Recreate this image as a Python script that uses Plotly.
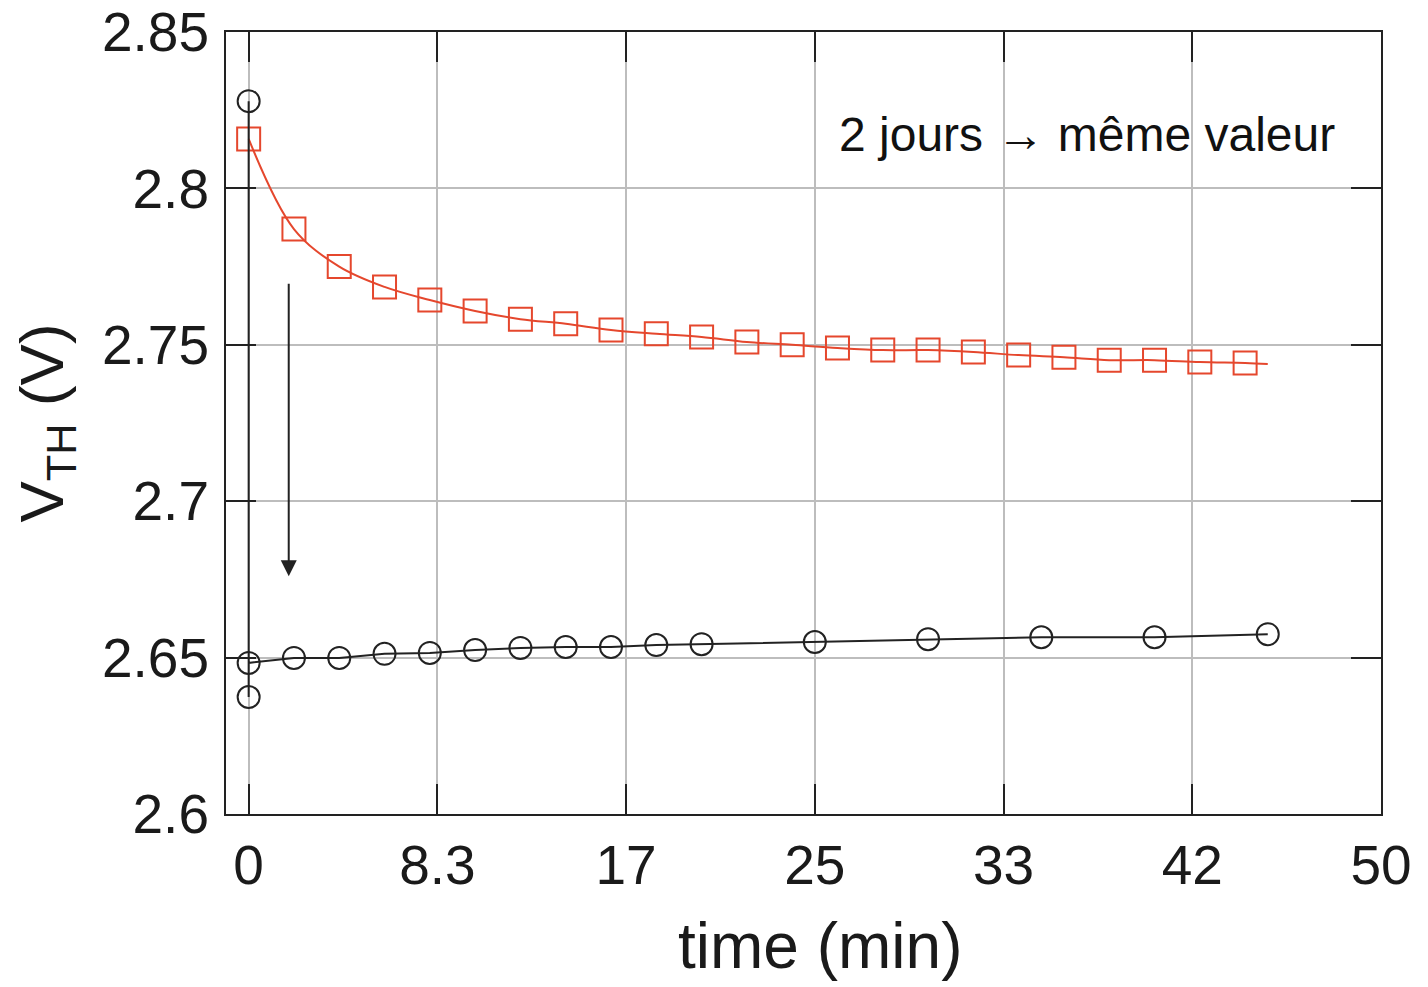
import plotly.graph_objects as go

# --- data ---
red_x = [0, 2, 4, 6, 8, 10, 12, 14, 16, 18, 20, 22, 24, 26, 28, 30, 32, 34, 36, 38, 40, 42, 44]
red_y = [2.8158, 2.7870, 2.7750, 2.7685, 2.7643, 2.7608, 2.7582, 2.7567, 2.7547, 2.7535,
         2.7525, 2.7509, 2.7500, 2.7490, 2.7483, 2.7483, 2.7477, 2.7467, 2.7460, 2.7451,
         2.7451, 2.7445, 2.7442]
fit_x = red_x + [45]
fit_y = red_y + [2.7439]

blk_x = [0, 0, 0, 2, 4, 6, 8, 10, 12, 14, 16, 18, 20, 25, 30, 35, 40, 45]
blk_y = [2.8279, 2.6374, 2.6483, 2.6499, 2.6499, 2.6512, 2.6515, 2.6524, 2.6531, 2.6534,
         2.6534, 2.6540, 2.6543, 2.6550, 2.6559, 2.6565, 2.6565, 2.6575]

x_tickvals = [0, 25/3, 50/3, 25, 100/3, 125/3, 50]
x_ticktext = ["0", "8.3", "17", "25", "33", "42", "50"]
y_tickvals = [2.6, 2.65, 2.7, 2.75, 2.8, 2.85]
y_ticktext = ["2.6", "2.65", "2.7", "2.75", "2.8", "2.85"]

arrow_x = 1.77
arrow_y_start = 2.770
arrow_y_end = 2.676

note_text = "2 jours \u2192 même valeur"
note_x = 37.0
note_y = 2.8172

RED = "#e5472d"
BLK = "#222222"
FONT = "Liberation Sans, Arial, sans-serif"

fig = go.Figure()
fig.add_trace(go.Scatter(x=fit_x, y=fit_y, mode="lines", line=dict(color=RED, width=2, shape="spline"),
                         hoverinfo="skip", showlegend=False))
fig.add_trace(go.Scatter(x=red_x, y=red_y, mode="markers",
                         marker=dict(symbol="square-open", size=23, color=RED, line=dict(width=2, color=RED)),
                         showlegend=False))
fig.add_trace(go.Scatter(x=blk_x, y=blk_y, mode="lines+markers",
                         line=dict(color=BLK, width=2),
                         marker=dict(symbol="circle-open", size=22, color=BLK, line=dict(width=2, color=BLK)),
                         showlegend=False))

fig.add_annotation(x=arrow_x, y=arrow_y_end, ax=arrow_x, ay=arrow_y_start, xref="x", yref="y",
                   axref="x", ayref="y", showarrow=True, arrowhead=2, arrowsize=1.6, arrowwidth=2,
                   arrowcolor=BLK, text="")
fig.add_annotation(x=note_x, y=note_y, xref="x", yref="y", text=note_text, showarrow=False,
                   font=dict(size=48, color="#111111", family=FONT))
# x-axis title (placed slightly right of centre, as in the reference)
fig.add_annotation(x=0.514, y=-0.1688, xref="paper", yref="paper", text="time (min)",
                   showarrow=False, xanchor="center", yanchor="middle",
                   font=dict(size=64, color="#1a1a1a", family=FONT))

axis_common = dict(showline=True, linecolor="#222222", linewidth=2, mirror="ticks",
                   ticks="inside", ticklen=30, tickwidth=2, tickcolor="#222222",
                   showgrid=True, gridcolor="#bdbdbd", gridwidth=2, zeroline=False,
                   tickfont=dict(size=55, color="#1a1a1a", family=FONT))

fig.update_xaxes(range=[-1, 50], tickmode="array", tickvals=x_tickvals, ticktext=x_ticktext,
                 ticklabelstandoff=2, **axis_common)
fig.update_yaxes(range=[2.6, 2.85], tickmode="array", tickvals=y_tickvals, ticktext=y_ticktext,
                 ticklabelstandoff=4,
                 title=dict(text="V<sub>TH</sub> (V)", font=dict(size=62, color="#1a1a1a", family=FONT),
                            standoff=18),
                 **axis_common)

fig.update_layout(width=1428, height=987, margin=dict(l=226, r=47, t=32, b=173, autoexpand=False),
                  plot_bgcolor="white", paper_bgcolor="white")

fig.write_html("out.html")
